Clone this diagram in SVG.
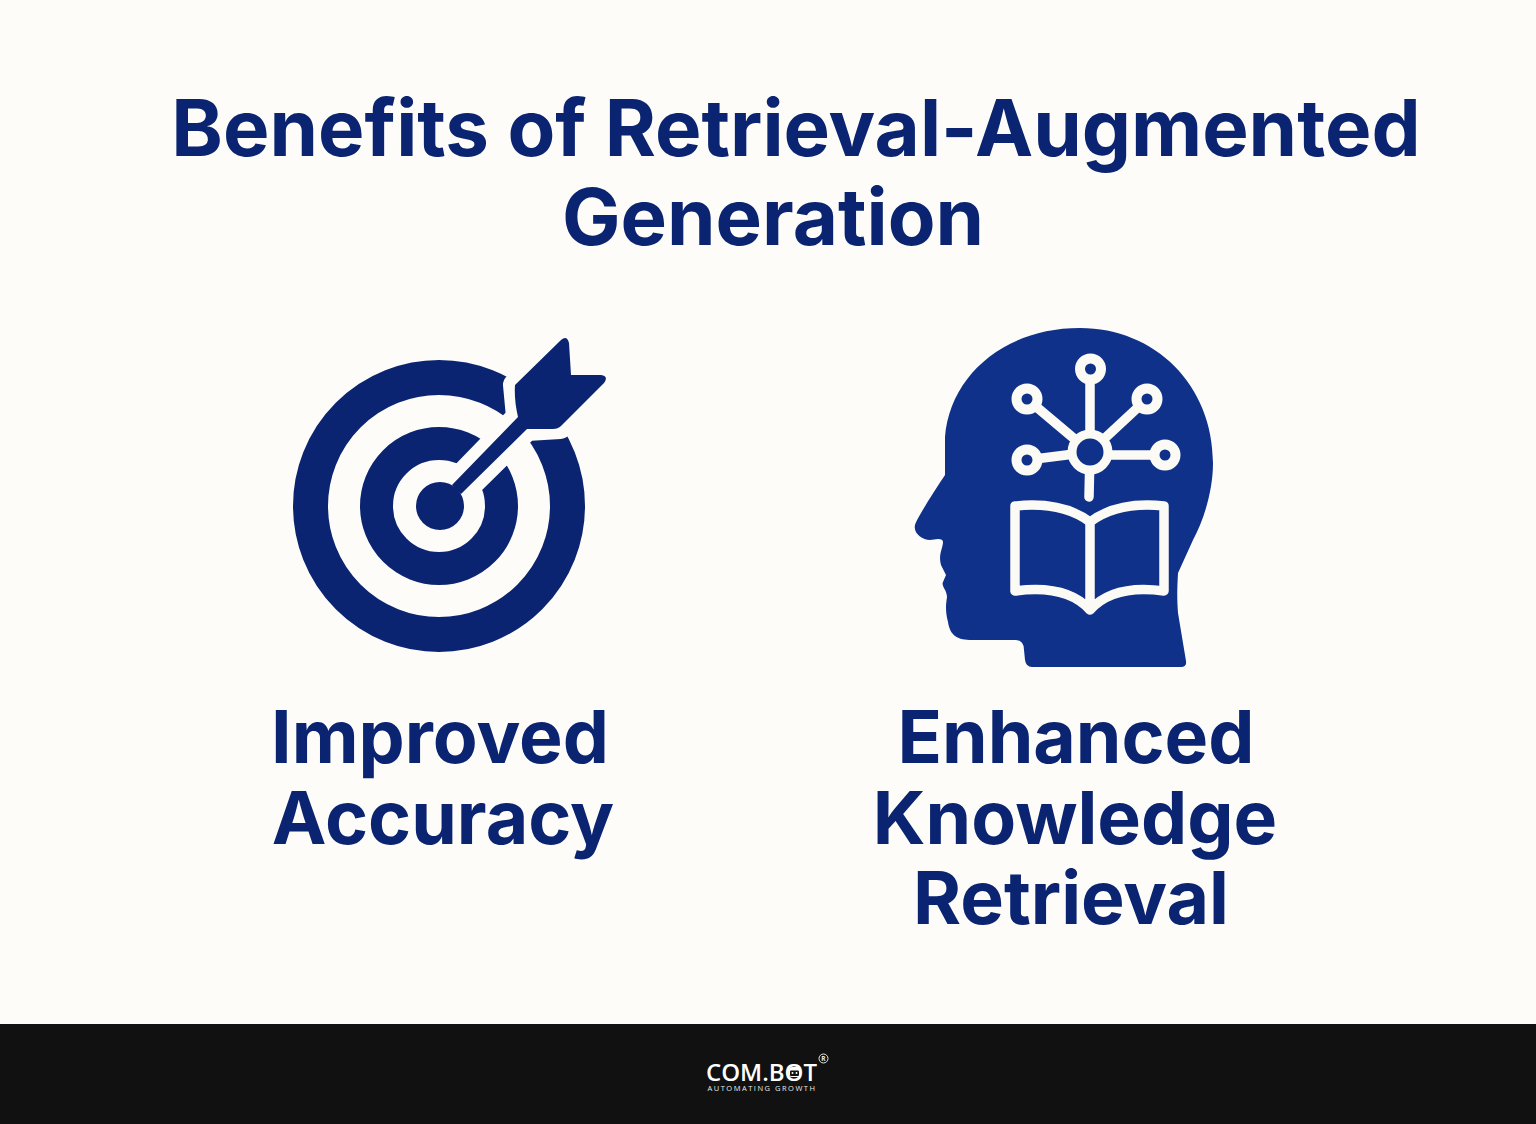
<svg xmlns="http://www.w3.org/2000/svg" width="1536" height="1124" viewBox="0 0 1536 1124">
<style>
.t{font-family:Inter,"Liberation Sans",sans-serif;font-weight:700;fill:#0A2472;text-anchor:middle}
.h{font-size:78px}
.l{font-size:73.300px}
.w{fill:none;stroke:#FBFAF5;stroke-linecap:round;stroke-linejoin:round}
.ring{fill:none;stroke:#0A2472}
</style>
<rect width="1536" height="1124" fill="#FDFCF8"/>
<g id="title">
<text class="t h" x="796" y="156">Benefits of Retrieval-Augmented</text>
<text class="t h" x="773" y="245">Generation</text>
</g>
<g id="node-accuracy">
<circle class="ring" cx="439" cy="506" r="128.500" stroke-width="35"/>
<circle class="ring" cx="439" cy="506" r="62.500" stroke-width="33"/>
<path id="arrow-gap" d="M515 385L562 339L571 375L603 376L560 427L527 429L461 494L452 485L518 417Z" fill="#FDFCF8" stroke="#FDFCF8" stroke-width="24" stroke-linejoin="round"/>
<circle cx="440" cy="506" r="24" fill="#0A2472"/>
<path d="M515 385L561 340Q567 335 569 343L571 375L601 375Q609 376 604 383L561 426Q558 429 553 429L527 429L461 494L452 485L518 417Q514 400 515 385Z" fill="#0A2472"/>
<text class="t l" x="440" y="763">Improved</text>
<text class="t l" x="443" y="844">Accuracy</text>
</g>
<g id="node-knowledge">
<path d="M1080 328C1155 328 1213 385 1213 463C1213 490 1204 520 1193 540L1178 573C1177 590 1177 600 1178 613L1186 661Q1187 667 1181 667L1032 667Q1026 667 1025 660L1024 650Q1024 640 1015 640L972 640C958 640 950 636 948 622C945 610 946 604 947 597C947 590 941 586 943 582L946 575L941 565C938 555 943 548 943 542Q943 539 938 539L930 540C922 540 913 533 915 525C917 518 935 490 945 475L945 437C950 375 1005 328 1080 328Z" fill="#0F318A"/>
<g class="w" stroke-width="9.500">
<path d="M1090 369V452M1027 399L1090 452M1147 399L1090 452M1027 460L1090 452M1165 455H1090M1090 452L1089 497"/>
</g>
<circle cx="1090" cy="452" r="18" fill="#0F318A" stroke="#FBFAF5" stroke-width="9"/>
<g fill="#0F318A" stroke="#FBFAF5" stroke-width="10">
<circle cx="1090.500" cy="369" r="10.500"/>
<circle cx="1027" cy="399" r="10.500"/>
<circle cx="1147" cy="399" r="10.500"/>
<circle cx="1027" cy="460" r="10.500"/>
<circle cx="1165" cy="455" r="10.500"/>
</g>
<path class="w" stroke-width="9.500" d="M1015 506C1045 503 1070 507 1090 522C1110 507 1135 503 1164 506V591C1135 587 1108 590 1090 610C1072 590 1045 587 1015 591ZM1090 522V610"/>
<text class="t l" x="1076" y="763">Enhanced</text>
<text class="t l" x="1075" y="844">Knowledge</text>
<text class="t l" x="1071" y="924">Retrieval</text>
</g>
<g id="footer">
<rect y="1024" width="1536" height="100" fill="#111111"/>
<text x="761.500" y="1080.500" font-family="'Open Sans','Noto Sans',sans-serif" font-weight="600" font-size="24" fill="#FFFFFF" text-anchor="middle">COM.BOT</text>
<rect x="789" y="1067" width="11" height="10" rx="3" fill="#FFFFFF"/>
<rect x="790" y="1070.500" width="9" height="5.500" rx="1" fill="#111111"/>
<circle cx="792.500" cy="1073" r="1" fill="#FFFFFF"/>
<circle cx="796.500" cy="1073" r="1" fill="#FFFFFF"/>
<text x="762" y="1091" font-family="'Open Sans','Noto Sans',sans-serif" font-weight="400" font-size="7.500" letter-spacing="1.500" fill="#E8E8E8" text-anchor="middle">AUTOMATING GROWTH</text>
<circle cx="823.500" cy="1058.500" r="4.500" fill="none" stroke="#E8E8E8" stroke-width="1"/>
<text x="823.500" y="1061" font-family="'Open Sans',sans-serif" font-size="6.500" font-weight="700" fill="#E8E8E8" text-anchor="middle">R</text>
</g>
</svg>
